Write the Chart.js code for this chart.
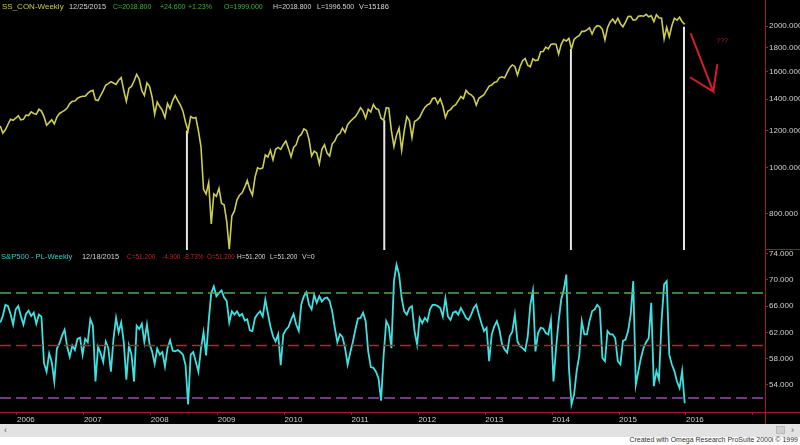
<!DOCTYPE html>
<html><head><meta charset="utf-8">
<script src="https://cdn.jsdelivr.net/npm/chart.js@4.4.1/dist/chart.umd.min.js"></script>
<style>
html,body{margin:0;padding:0;background:#fff;width:800px;height:445px;overflow:hidden;font-family:"Liberation Sans",Arial,sans-serif}
#wrap{position:relative;width:800px;height:445px;background:#fff}
canvas{position:absolute;left:0;background:#000}
#c1{top:0}
#c2{top:250px}
#bar{position:absolute;left:0;top:424px;width:800px;height:13px;background:#e2e2e2}
#box{position:absolute;left:776px;top:2px;width:9px;height:8px;background:#cfcfcf;border:1px solid #b8b8b8;box-sizing:border-box}
#arrR{position:absolute;left:791px;top:0px;font-size:9px;color:#555;line-height:12px}
#arrL{position:absolute;left:4px;top:0px;font-size:9px;color:#555;line-height:12px}
#credit{position:absolute;right:2px;top:436px;font-size:7px;line-height:8px;color:#333;white-space:nowrap}
</style></head><body>
<div id="wrap">
<canvas id="c1" width="800" height="250"></canvas>
<canvas id="c2" width="800" height="174"></canvas>
<div id="bar"><span id="arrL">‹</span><div id="box"></div><span id="arrR">›</span></div>
<div id="credit">Created with Omega Research ProSuite 2000i © 1999</div>
</div>
<script>
// ---------- DATA ----------
// biweekly samples starting at 2005.75 (Oct 2005)
const startYear = 2005.75;
const stepYears = 1 / 26;

// SS_CON weekly (price, log scale)
const price2005 = [1228, 1186, 1205, 1238, 1268, 1262, 1275];
const price2006 = [1290, 1265, 1268, 1295, 1292, 1315, 1305, 1300, 1332, 1320, 1285, 1232, 1248, 1265, 1240, 1282, 1305, 1315, 1325, 1340, 1370, 1385, 1387, 1405, 1415, 1420];
const price2007 = [1420, 1440, 1455, 1462, 1395, 1390, 1425, 1460, 1500, 1510, 1525, 1515, 1505, 1535, 1555, 1460, 1385, 1475, 1490, 1530, 1580, 1545, 1460, 1425, 1515, 1490];
const price2008 = [1415, 1300, 1380, 1350, 1325, 1280, 1370, 1335, 1390, 1425, 1390, 1360, 1320, 1250, 1200, 1285, 1275, 1280, 1200, 1110, 900, 880, 930, 760, 880, 870];
const price2009 = [905, 840, 835, 770, 672, 790, 810, 855, 875, 885, 910, 940, 900, 875, 955, 1000, 995, 1000, 1065, 1055, 1090, 1040, 1095, 1105, 1095, 1120];
const price2010 = [1140, 1100, 1055, 1105, 1120, 1165, 1178, 1210, 1200, 1150, 1060, 1085, 1075, 1020, 1095, 1120, 1075, 1060, 1125, 1140, 1173, 1183, 1215, 1190, 1235, 1255];
const price2011 = [1270, 1285, 1310, 1342, 1320, 1275, 1332, 1315, 1363, 1337, 1330, 1275, 1262, 1343, 1340, 1200, 1110, 1175, 1215, 1090, 1200, 1285, 1260, 1160, 1255, 1265];
const price2012 = [1280, 1315, 1344, 1361, 1370, 1404, 1408, 1370, 1403, 1353, 1280, 1320, 1330, 1352, 1362, 1390, 1418, 1404, 1461, 1440, 1430, 1411, 1359, 1406, 1418, 1430];
const price2013 = [1461, 1492, 1500, 1519, 1525, 1555, 1562, 1553, 1593, 1633, 1655, 1643, 1575, 1640, 1690, 1707, 1652, 1640, 1705, 1690, 1695, 1765, 1768, 1805, 1790, 1830];
const price2014 = [1836, 1830, 1745, 1830, 1873, 1860, 1885, 1790, 1875, 1896, 1910, 1950, 1950, 1965, 1985, 1925, 1980, 2005, 2000, 1970, 1870, 1985, 2040, 2072, 2030, 2080];
const price2015 = [2025, 1995, 2040, 2097, 2100, 2060, 2065, 2100, 2105, 2100, 2120, 2095, 2105, 2045, 2115, 2085, 2080, 1880, 1990, 1900, 2005, 2080, 2060, 2090, 2045, 2018.8];

// S&P500 - PL weekly (indicator)
const pl2006a = [63.5, 64.5, 66.2, 66.0, 64.8, 63.2, 65.5, 66.0, 64.5, 63.2, 64.8, 65.3, 64.5, 65.0, 63.3, 64.7, 64.4, 57.3, 56.0, 58.8, 57.5, 54.5, 59.5, 60.3, 61.5, 62.4, 59.8, 58.3, 60.0, 59.3, 61.0, 61.2, 58.6];
const pl2007 = [61.0, 60.5, 64.0, 63.0, 54.5, 59.8, 58.8, 57.5, 60.6, 59.6, 56.0, 61.0, 64.2, 62.0, 63.5, 60.5, 54.8, 60.0, 58.6, 54.5, 63.0, 62.5, 63.3, 60.5, 63.2, 60.2];
const pl2008 = [59.1, 57.2, 59.5, 58.6, 59.0, 56.8, 59.6, 60.8, 59.2, 59.1, 59.3, 59.0, 58.6, 57.0, 51.0, 58.6, 59.0, 57.5, 56.0, 59.5, 62.0, 58.5, 63.7, 68.0, 69.0, 67.5];
const pl2009 = [68.0, 68.4, 67.3, 66.8, 63.5, 65.2, 64.7, 65.2, 64.5, 64.8, 63.8, 64.0, 62.3, 62.2, 64.2, 64.8, 65.2, 64.4, 67.0, 64.9, 62.9, 61.4, 60.6, 61.7, 57.0, 61.7];
const pl2010 = [62.4, 62.8, 63.9, 64.8, 63.2, 62.2, 66.3, 67.5, 68.1, 66.2, 65.5, 67.7, 66.5, 67.5, 66.7, 67.2, 67.3, 66.8, 65.2, 62.7, 60.5, 61.7, 61.3, 59.6, 57.1, 58.9];
const pl2011 = [60.5, 62.4, 64.1, 64.2, 65.0, 63.7, 59.1, 56.7, 56.6, 56.0, 55.0, 51.6, 58.5, 63.7, 62.9, 59.6, 69.8, 72.3, 70.8, 67.2, 65.2, 64.7, 65.7, 66.0, 62.2, 60.1];
const pl2012 = [64.2, 63.4, 64.2, 63.7, 65.5, 66.2, 66.2, 66.0, 65.7, 64.4, 67.2, 64.4, 63.9, 65.0, 65.2, 64.7, 65.7, 65.0, 64.2, 63.9, 64.7, 65.7, 66.2, 64.7, 63.4, 62.2];
const pl2013 = [62.7, 57.6, 61.7, 62.9, 63.7, 62.4, 60.2, 59.4, 58.9, 61.4, 62.1, 64.7, 60.6, 59.9, 59.6, 59.2, 61.4, 66.2, 68.3, 59.1, 61.9, 62.7, 62.6, 61.9, 61.7, 63.9];
const pl2014 = [54.5, 59.6, 63.7, 67.0, 68.5, 70.8, 56.6, 51.0, 52.5, 56.1, 58.4, 63.7, 61.7, 61.7, 63.7, 65.2, 65.5, 66.2, 65.7, 58.1, 57.6, 62.2, 61.7, 61.7, 61.1, 57.6];
const pl2015 = [57.1, 60.7, 60.9, 62.2, 64.7, 69.8, 54.0, 56.1, 58.1, 59.6, 60.5, 61.1, 66.5, 53.8, 56.1, 54.8, 63.7, 69.3, 69.8, 58.6, 57.1, 56.1, 54.5, 53.5, 56.1, 51.2];

// tick labels / reference levels / annotation marks
const years = [2006, 2007, 2008, 2009, 2010, 2011, 2012, 2013, 2014, 2015, 2016, 2017];
const priceTicks = [800, 1000, 1200, 1400, 1600, 1800, 2000];
const plTicks = [54, 58, 62, 66, 70, 74];
const plLevels = [68, 60, 52];
const markDates = [2008.54, 2011.49, 2014.28, 2015.97];
const markTops = [1200, 1262, 1790, 1995];
const arrowX = [2016.07, 2016.408, 2016.06, 2016.408, 2016.468];
const arrowY = [1932, 1452, 1558, 1452, 1662];
const noteX = 2016.54, noteY = 1861, noteText = '???';

const topInfo = ['SS_CON-Weekly', '12/25/2015', 'C=2018.800', '+24.600', '+1.23%', 'O=1999.000', 'H=2018.800', 'L=1996.500', 'V=15186'];
const botInfo = ['S&P500 - PL-Weekly', '12/18/2015', 'C=51.200', '-4.900', '-8.73%', 'O=51.200', 'H=51.200', 'L=51.200', 'V=0'];

// ---------- BUILD ----------
const price = [].concat(price2005, price2006, price2007, price2008, price2009, price2010, price2011, price2012, price2013, price2014, price2015);
const pl = [].concat(pl2006a, pl2007, pl2008, pl2009, pl2010, pl2011, pl2012, pl2013, pl2014, pl2015);
const xAt = i => startYear + i * stepYears;

const X_MIN = 2005.746, X_MAX = 2017.181;
const RED = '#a3143c';
const FONT = {family: 'Liberation Sans, Arial, sans-serif', size: 8};
const LABEL = '#cfcfcf';

const topInfoX = [2, 69, 113, 160, 188, 224, 273, 317, 359];
const topInfoC = ['#c8c850', '#d6d6d6', '#3cb43c', '#3cb43c', '#3cb43c', '#3cb43c', '#d6d6d6', '#d6d6d6', '#d6d6d6'];
const topInfoS = [8, 7.4, 7, 7, 7, 7, 7, 7, 7.4];
const botInfoX = [1, 82, 127, 162, 183, 207, 237, 270, 302];
const botInfoC = ['#3cc8c8', '#d6d6d6', '#c81e28', '#c81e28', '#c81e28', '#c81e28', '#d6d6d6', '#d6d6d6', '#d6d6d6'];
const botInfoS = [7.6, 7.4, 6.5, 6.5, 6.5, 6.3, 6.5, 6.5, 7];

function headerPlugin(texts, xs, cs, ss, extra) {
  return {
    id: 'hdr',
    afterDraw(chart) {
      const ctx = chart.ctx;
      ctx.save();
      ctx.textBaseline = 'middle';
      ctx.textAlign = 'left';
      texts.forEach((t, i) => {
        ctx.font = ss[i] + 'px "Liberation Sans", Arial, sans-serif';
        ctx.fillStyle = cs[i];
        ctx.fillText(t, xs[i], 7);
      });
      if (extra) extra(chart, ctx);
      ctx.restore();
    }
  };
}

const noPad = s => { s.paddingTop = 0; s.paddingBottom = 0; s.paddingLeft = 0; s.paddingRight = 0; };

new Chart(document.getElementById('c1'), {
  type: 'line',
  data: {
    datasets: [
      {data: price.map((v, i) => ({x: xAt(i), y: v})), borderColor: '#cdcd52', borderWidth: 1.6, pointRadius: 0, tension: 0},
      ...markDates.map((d, k) => ({data: [{x: d, y: markTops[k]}, {x: d, y: 600}], borderColor: '#e6e6e6', borderWidth: 2, pointRadius: 0})),
      {data: arrowX.map((x, k) => ({x, y: arrowY[k]})), borderColor: '#d21e28', borderWidth: 2, pointRadius: 0, borderJoinStyle: 'miter'}
    ]
  },
  options: {
    responsive: false, animation: false, devicePixelRatio: 1,
    layout: {padding: 0},
    plugins: {legend: {display: false}, tooltip: {enabled: false}},
    scales: {
      x: {type: 'linear', min: X_MIN, max: X_MAX, display: false},
      y: {
        type: 'logarithmic', position: 'right', min: 669, max: 2274,
        afterBuildTicks: s => { s.ticks = priceTicks.map(v => ({value: v})); },
        afterFit: s => { s.width = 35; noPad(s); },
        ticks: {callback: v => Number(v).toFixed(3), color: LABEL, font: FONT, padding: 1, autoSkip: false},
        grid: {drawOnChartArea: false, tickLength: 3, color: RED},
        border: {color: RED}
      }
    }
  },
  plugins: [headerPlugin(topInfo, topInfoX, topInfoC, topInfoS, (chart, ctx) => {
    const sx = chart.scales.x, sy = chart.scales.y;
    ctx.fillStyle = '#b41428';
    ctx.font = '7px "Liberation Sans", Arial, sans-serif';
    ctx.textAlign = 'center';
    ctx.fillText(noteText, sx.getPixelForValue(noteX), sy.getPixelForValue(noteY));
    ctx.strokeStyle = RED; ctx.lineWidth = 1;
    ctx.beginPath(); ctx.moveTo(chart.chartArea.right, 249.5); ctx.lineTo(800, 249.5); ctx.stroke();
  })]
});

new Chart(document.getElementById('c2'), {
  type: 'line',
  data: {
    datasets: [
      ...plLevels.map((v, k) => ({data: [{x: X_MIN, y: v}, {x: X_MAX, y: v}], borderColor: ['#56a856', '#b8203c', '#9050b4'][k], borderWidth: 1.4, borderDash: [11, 5], pointRadius: 0})),
      {data: pl.map((v, i) => ({x: xAt(i), y: v})), borderColor: '#40e0e0', borderWidth: 1.8, pointRadius: 0, tension: 0}
    ]
  },
  options: {
    responsive: false, animation: false, devicePixelRatio: 1,
    layout: {padding: 0},
    plugins: {legend: {display: false}, tooltip: {enabled: false}},
    scales: {
      x: {
        type: 'linear', min: X_MIN, max: X_MAX,
        afterBuildTicks: s => { s.ticks = years.map(v => ({value: v})); },
        afterFit: s => { s.height = 12; noPad(s); },
        ticks: {callback: v => (v === 2017 ? '' : String(v)), color: LABEL, font: FONT, padding: 0, align: 'start', maxRotation: 0, autoSkip: false},
        grid: {drawOnChartArea: false, tickLength: 3, color: RED},
        border: {color: RED}
      },
      y: {
        type: 'linear', position: 'right', min: 49.86, max: 74.55,
        afterBuildTicks: s => { s.ticks = plTicks.map(v => ({value: v})); },
        afterFit: s => { s.width = 35; noPad(s); },
        ticks: {callback: v => Number(v).toFixed(3), color: LABEL, font: FONT, padding: 1, autoSkip: false},
        grid: {drawOnChartArea: false, tickLength: 3, color: RED},
        border: {color: RED}
      }
    }
  },
  plugins: [headerPlugin(botInfo, botInfoX, botInfoC, botInfoS, (chart, ctx) => {
    const a = chart.chartArea;
    ctx.strokeStyle = RED; ctx.lineWidth = 1;
    ctx.beginPath();
    ctx.moveTo(a.right, Math.round(a.bottom) + 0.5); ctx.lineTo(800, Math.round(a.bottom) + 0.5);
    ctx.moveTo(Math.round(a.right) + 0.5, a.bottom); ctx.lineTo(Math.round(a.right) + 0.5, 174);
    ctx.stroke();
  })]
});
</script>
</body></html>
